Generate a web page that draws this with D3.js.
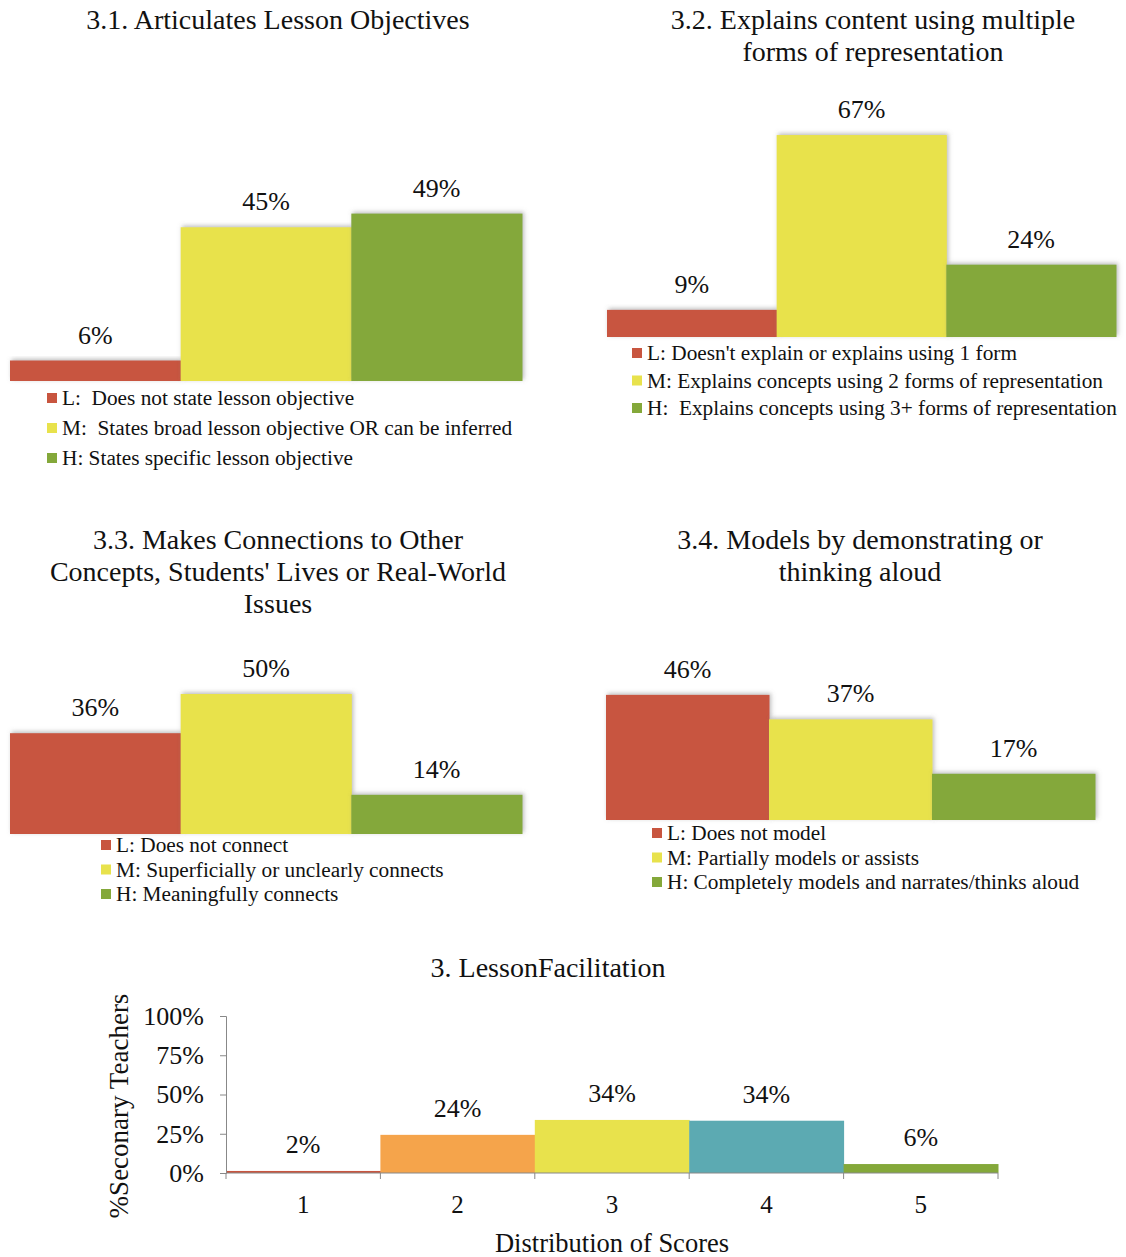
<!DOCTYPE html>
<html><head><meta charset="utf-8">
<script src="https://cdn.jsdelivr.net/npm/d3@7"></script>
<style>
body{margin:0;background:#fff;}
text{font-family:"Liberation Serif","Times New Roman",serif;fill:#111;white-space:pre;}
</style></head>
<body>
<svg id="c" width="1126" height="1257"></svg>
<script>
// ---------- DATA ----------
const levels = ["L","M","H"];
const levelColors = ["#C8553F","#E8E24C","#84A83A"];

const p1Title = ["3.1. Articulates Lesson Objectives"];
const p1Values = [6,45,49];
const p1Legend = ["L:  Does not state lesson objective","M:  States broad lesson objective OR can be inferred","H: States specific lesson objective"];

const p2Title = ["3.2. Explains content using multiple","forms of representation"];
const p2Values = [9,67,24];
const p2Legend = ["L: Doesn't explain or explains using 1 form","M: Explains concepts using 2 forms of representation","H:  Explains concepts using 3+ forms of representation"];

const p3Title = ["3.3. Makes Connections to Other","Concepts, Students' Lives or Real-World","Issues"];
const p3Values = [36,50,14];
const p3Legend = ["L: Does not connect","M: Superficially or unclearly connects","H: Meaningfully connects"];

const p4Title = ["3.4. Models by demonstrating or","thinking aloud"];
const p4Values = [46,37,17];
const p4Legend = ["L: Does not model","M: Partially models or assists","H: Completely models and narrates/thinks aloud"];

const scoreCategories = ["1","2","3","4","5"];
const scoreValues = [2,24,34,34,6];
const scoreBarValues = [1.3,24.3,33.8,33.3,5.7];
const scoreColors = ["#C8553F","#F5A44B","#E8E24C","#5CAAB2","#84A83A"];
const scoreTicks = [0,25,50,75,100];
const scoreTitle = "3. LessonFacilitation";
const scoreXTitle = "Distribution of Scores";
const scoreYTitle = "%Seconary Teachers";

// ---------- DRAW ----------
const svg = d3.select("#c");
const defs = svg.append("defs");
const f = defs.append("filter").attr("id","sh").attr("x","-5%").attr("y","-20%").attr("width","110%").attr("height","140%");
f.append("feDropShadow").attr("dx",1.5).attr("dy",-1.5).attr("stdDeviation",2)
  .attr("flood-color","#777").attr("flood-opacity",0.5);

function panel(o){
  const g = svg.append("g");
  o.title.forEach((t,i)=>{
    g.append("text").attr("x",o.titleX).attr("y",o.titleY+i*32)
      .attr("text-anchor","middle").attr("font-size",28).text(t);
  });
  const x = d3.scaleBand().domain(levels).range([o.x0,o.x1]).padding(0);
  const y = d3.scaleLinear().domain([0,o.yMax]).range([o.base,o.base-o.h]);
  g.selectAll("rect.bar").data(o.values).join("rect")
    .attr("x",(d,i)=>x(levels[i])).attr("width",x.bandwidth()+0.5)
    .attr("y",d=>y(d)).attr("height",d=>o.base-y(d))
    .attr("fill",(d,i)=>levelColors[i]).attr("filter","url(#sh)");
  g.selectAll("text.lbl").data(o.values).join("text")
    .attr("x",(d,i)=>x(levels[i])+x.bandwidth()/2).attr("y",d=>y(d)-17)
    .attr("text-anchor","middle").attr("font-size",26).text(d=>d+"%");
  o.legend.forEach((t,i)=>{
    const cy = o.legY + i*o.legStep;
    g.append("rect").attr("x",o.legX).attr("y",cy-5).attr("width",10).attr("height",10).attr("fill",levelColors[i]);
    g.append("text").attr("x",o.legX+15).attr("y",cy+7).attr("font-size",21.3).text(t);
  });
}

panel({title:p1Title,titleX:278,titleY:29,values:p1Values,x0:10,x1:522,base:381,yMax:60,h:205,
  legend:p1Legend,legX:47,legY:398,legStep:30});
panel({title:p2Title,titleX:873,titleY:29,values:p2Values,x0:607,x1:1116,base:337,yMax:70,h:211,
  legend:p2Legend,legX:632,legY:353,legStep:27.5});
panel({title:p3Title,titleX:278,titleY:549,values:p3Values,x0:10,x1:522,base:834,yMax:60,h:168,
  legend:p3Legend,legX:101,legY:845,legStep:24.5});
panel({title:p4Title,titleX:860,titleY:549,values:p4Values,x0:606,x1:1095,base:820,yMax:50,h:136,
  legend:p4Legend,legX:652,legY:833,legStep:24.5});

// bottom chart
(function(){
  const g = svg.append("g");
  const x0=226,x1=998,base=1173,h=157;
  const x = d3.scaleBand().domain(scoreCategories).range([x0,x1]).padding(0);
  const y = d3.scaleLinear().domain([0,100]).range([base,base-h]);
  g.append("text").attr("x",548).attr("y",977).attr("text-anchor","middle").attr("font-size",28).text(scoreTitle);
  g.selectAll("rect.b").data(scoreBarValues).join("rect")
    .attr("x",(d,i)=>x(scoreCategories[i])).attr("width",x.bandwidth()+0.5)
    .attr("y",d=>y(d)).attr("height",d=>base-y(d)).attr("fill",(d,i)=>scoreColors[i]);
  g.selectAll("text.l").data(scoreValues).join("text")
    .attr("x",(d,i)=>x(scoreCategories[i])+x.bandwidth()/2).attr("y",(d,i)=>y(scoreBarValues[i])-18)
    .attr("text-anchor","middle").attr("font-size",26).text(d=>d+"%");
  const ya = g.append("g").attr("transform",`translate(${x0},0)`)
    .call(d3.axisLeft(y).tickValues(scoreTicks).tickFormat(d=>d+"%").tickSize(6).tickPadding(16));
  ya.select(".domain").attr("stroke","#888");
  ya.selectAll(".tick line").attr("stroke","#888");
  ya.selectAll("text").attr("font-size",26).attr("font-family","Liberation Serif").attr("fill","#111");
  // x axis with ticks at band boundaries
  g.append("line").attr("x1",x0).attr("x2",x1).attr("y1",base).attr("y2",base).attr("stroke","#888");
  const bounds = scoreCategories.map(c=>x(c)).concat([x1]);
  g.selectAll("line.xt").data(bounds).join("line")
    .attr("x1",d=>d).attr("x2",d=>d).attr("y1",base).attr("y2",base+6).attr("stroke","#888");
  g.selectAll("text.xl").data(scoreCategories).join("text")
    .attr("x",d=>x(d)+x.bandwidth()/2).attr("y",1213).attr("text-anchor","middle").attr("font-size",25).text(d=>d);
  g.append("text").attr("x",612).attr("y",1252).attr("text-anchor","middle").attr("font-size",26.5).text(scoreXTitle);
  g.append("text").attr("transform","translate(128,1106) rotate(-90)").attr("text-anchor","middle").attr("font-size",27).text(scoreYTitle);
})();
</script>
</body></html>
